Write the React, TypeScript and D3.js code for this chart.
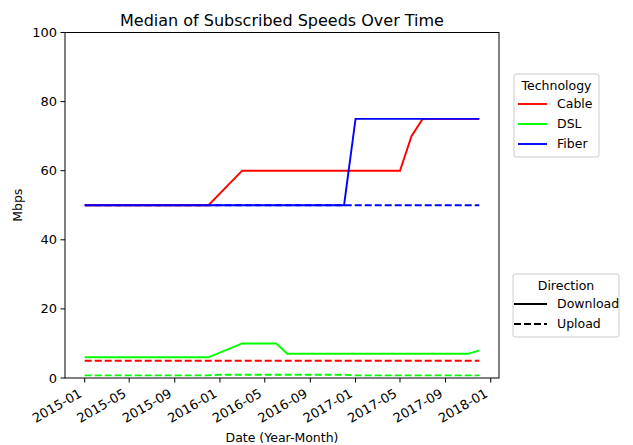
import * as d3 from "d3";

// series values (only the corner points of each line)
const cableDownDates = ["2015-01-01", "2015-12-01", "2016-03-01", "2017-05-01", "2017-06-01", "2017-07-01", "2017-12-01"];
const cableDownVals = [50, 50, 60, 60, 70, 75, 75];
const cableUpDates = ["2015-01-01", "2017-12-01"];
const cableUpVals = [5, 5];

const dslDownDates = ["2015-01-01", "2015-12-01", "2016-03-01", "2016-06-01", "2016-07-01", "2017-11-01", "2017-12-01"];
const dslDownVals = [6, 6, 10, 10, 7, 7, 8];
const dslUpDates = ["2015-01-01", "2015-12-01", "2016-01-01", "2016-12-01", "2017-01-01", "2017-12-01"];
const dslUpVals = [0.77, 0.77, 0.95, 0.95, 0.77, 0.77];

const fiberDownDates = ["2015-01-01", "2016-12-01", "2017-01-01", "2017-12-01"];
const fiberDownVals = [50, 50, 75, 75];
const fiberUpDates = ["2015-01-01", "2017-12-01"];
const fiberUpVals = [50, 50];

const techNames = ["Cable", "DSL", "Fiber"];
const techColors = ["#ff0000", "#00ff00", "#0000ff"];
const directionNames = ["Download", "Upload"];

const xTickLabels = ["2015-01", "2015-05", "2015-09", "2016-01", "2016-05", "2016-09", "2017-01", "2017-05", "2017-09", "2018-01"];
const yTicks = [0, 20, 40, 60, 80, 100];

const width = 633;
const height = 445;
const marginLeft = 65;
const marginRight = 134;
const marginTop = 32.5;
const marginBottom = 67;

const parse = d3.timeParse("%Y-%m-%d");
const parseMonth = d3.timeParse("%Y-%m");

function zip(dates: string[], vals: number[]) {
  return dates.map((d, i) => ({ date: parse(d) as Date, v: vals[i] }));
}

export default function App() {
  const series = [
    { data: zip(cableUpDates, cableUpVals), color: techColors[0], dashed: true },
    { data: zip(dslUpDates, dslUpVals), color: techColors[1], dashed: true },
    { data: zip(fiberUpDates, fiberUpVals), color: techColors[2], dashed: true },
    { data: zip(dslDownDates, dslDownVals), color: techColors[1], dashed: false },
    { data: zip(cableDownDates, cableDownVals), color: techColors[0], dashed: false },
    { data: zip(fiberDownDates, fiberDownVals), color: techColors[2], dashed: false },
  ];

  // matplotlib style 5% padding around the data range
  const first = parse("2015-01-01") as Date;
  const last = parse("2017-12-01") as Date;
  const pad = (last.getTime() - first.getTime()) * 0.05;
  const xScale = d3
    .scaleTime()
    .domain([new Date(first.getTime() - pad), new Date(last.getTime() + pad)])
    .range([marginLeft, width - marginRight]);
  const yScale = d3.scaleLinear([0, 100], [height - marginBottom, marginTop]);

  const line = d3
    .line<{ date: Date; v: number }>()
    .x((d) => xScale(d.date))
    .y((d) => yScale(d.v));

  const font = "DejaVu Sans, sans-serif";
  const x0 = marginLeft;
  const x1 = width - marginRight;
  const y0 = height - marginBottom;

  return (
    <svg
      width={width}
      height={height}
      style={{ position: "absolute", left: 0, top: 0, background: "white" }}
      fontFamily={font}
    >
      <rect x={0} y={0} width={width} height={height} fill="white" />
      <text x={(x0 + x1) / 2} y={25.5} textAnchor="middle" fontSize={16}>
        Median of Subscribed Speeds Over Time
      </text>

      <g>
        {series.map((s, i) => (
          <path
            key={i}
            d={line(s.data) ?? ""}
            fill="none"
            stroke={s.color}
            strokeWidth={1.9}
            strokeDasharray={s.dashed ? "7,3" : undefined}
          />
        ))}
      </g>

      <rect x={x0} y={marginTop} width={x1 - x0} height={y0 - marginTop} fill="none" stroke="black" strokeWidth={1} />

      {/* y axis */}
      <g>
        {yTicks.map((t) => (
          <g key={t} transform={`translate(${x0},${yScale(t)})`}>
            <line x1={-4.5} x2={0} stroke="black" strokeWidth={1} />
            <text x={-8} dy="0.35em" textAnchor="end" fontSize={13}>
              {t}
            </text>
          </g>
        ))}
        <text
          transform={`translate(22,${(marginTop + y0) / 2}) rotate(-90)`}
          textAnchor="middle"
          fontSize={12.5}
        >
          Mbps
        </text>
      </g>

      {/* x axis */}
      <g>
        {xTickLabels.map((t) => {
          const x = xScale(parseMonth(t) as Date);
          return (
            <g key={t}>
              <line x1={x} x2={x} y1={y0} y2={y0 + 4.5} stroke="black" strokeWidth={1} />
              <text transform={`translate(${x - 2},${y0 + 18}) rotate(-30)`} textAnchor="end" fontSize={13}>
                {t}
              </text>
            </g>
          );
        })}
        <text x={(x0 + x1) / 2} y={442} textAnchor="middle" fontSize={12.5}>
          Date (Year-Month)
        </text>
      </g>

      {/* Technology legend */}
      <g transform="translate(514,74)">
        <rect width={85} height={83} rx={2} fill="white" stroke="#cccccc" strokeWidth={1} />
        <text x={42.5} y={16} textAnchor="middle" fontSize={12.5}>
          Technology
        </text>
        {techNames.map((n, i) => (
          <g key={n} transform={`translate(0,${30 + i * 20})`}>
            <line x1={4} x2={33} stroke={techColors[i]} strokeWidth={1.9} />
            <text x={43} dy="0.35em" fontSize={12.5}>
              {n}
            </text>
          </g>
        ))}
      </g>

      {/* Direction legend */}
      <g transform="translate(513,274)">
        <rect width={106} height={63} rx={2} fill="white" stroke="#cccccc" strokeWidth={1} />
        <text x={53} y={16} textAnchor="middle" fontSize={12.5}>
          Direction
        </text>
        {directionNames.map((n, i) => (
          <g key={n} transform={`translate(0,${30 + i * 20})`}>
            <line x1={1} x2={34} stroke="black" strokeWidth={1.9} strokeDasharray={i === 1 ? "7,3" : undefined} />
            <text x={44} dy="0.35em" fontSize={12.5}>
              {n}
            </text>
          </g>
        ))}
      </g>
    </svg>
  );
}
